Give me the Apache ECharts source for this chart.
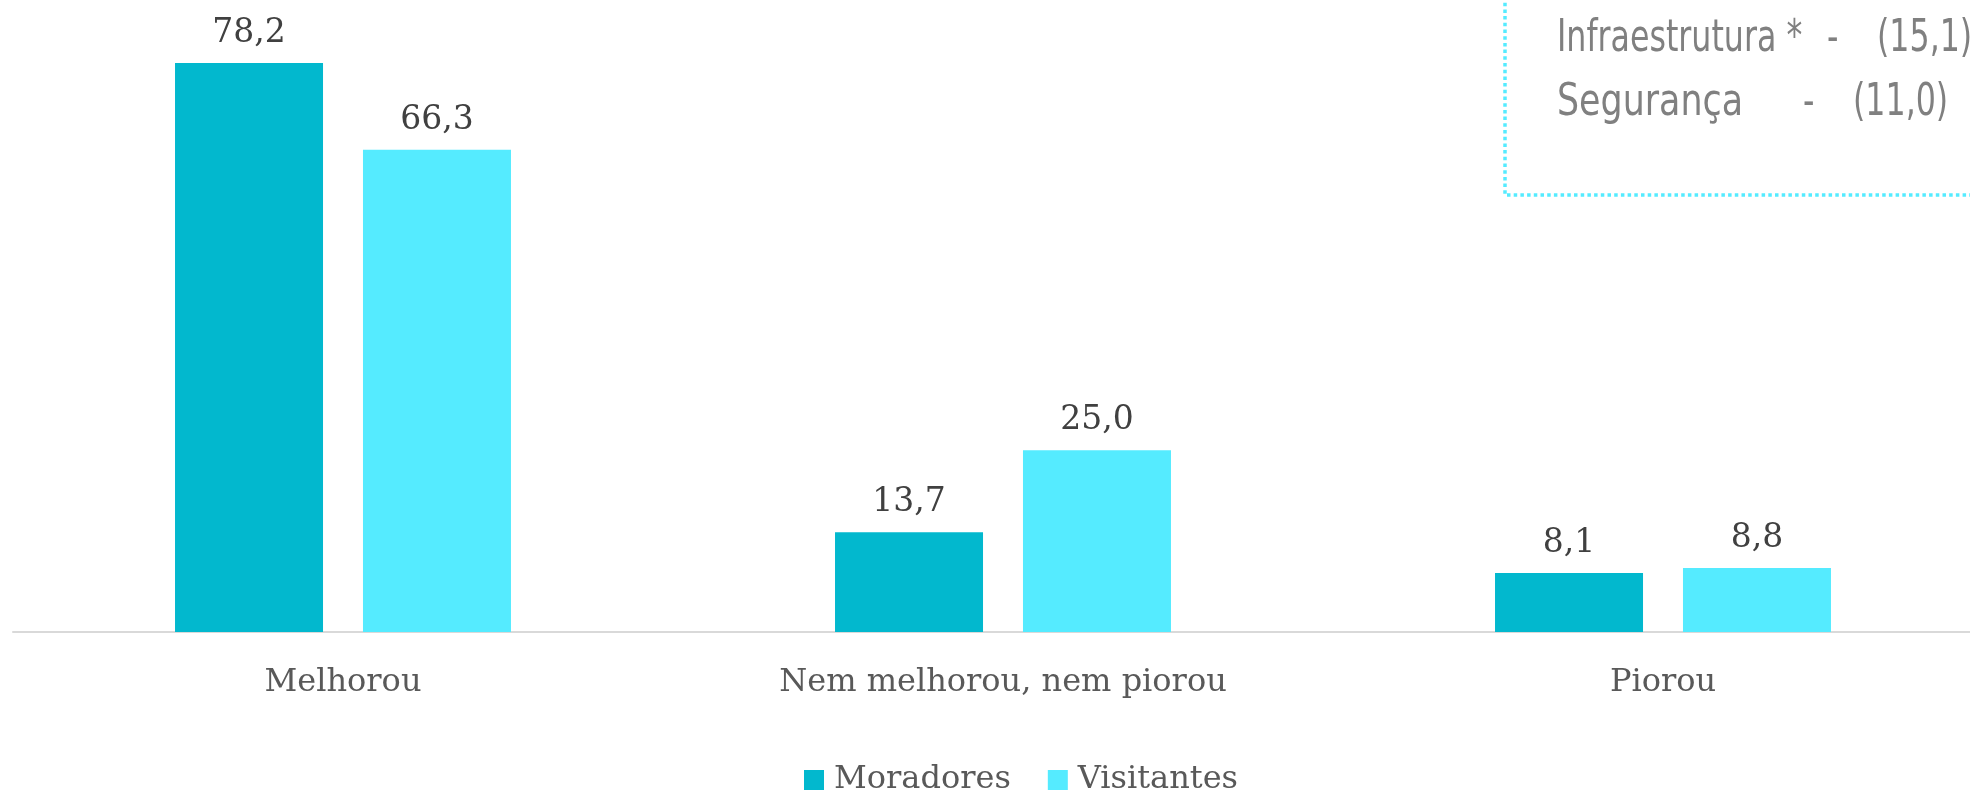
<!DOCTYPE html>
<html>
<head>
<meta charset="utf-8">
<script src="https://cdn.jsdelivr.net/npm/echarts@6/dist/echarts.min.js"></script>
<style>
  html, body { margin: 0; padding: 0; background: #fff; }
  #main { width: 1970px; height: 793px; }
</style>
</head>
<body>
<div id="main"></div>
<script>
    // dados do gráfico
    var categorias = ['Melhorou', 'Nem melhorou, nem piorou', 'Piorou'];
    var moradores = [78.2, 13.7, 8.1];
    var visitantes = [66.3, 25.0, 8.8];
    // caixa de destaque (canto superior direito)
    var destaqueNomes = ['Infraestrutura *', 'Segurança'];
    var destaqueValores = ['(15,1)', '(11,0)'];

    var serif = '"DejaVu Serif", serif';
    var narrow = '"DejaVu Sans Condensed", "DejaVu Sans", sans-serif';

    function rotulo(p) {
        return p.value.toFixed(1).replace('.', ',');
    }

    // texto da caixa, comprimido na horizontal
    function txt(t, x, y, sx) {
        return {
            type: 'text', x: x, y: y, scaleX: sx || 0.8,
            style: { text: t, font: '44px ' + narrow, fill: '#808080', textVerticalAlign: 'middle' }
        };
    }

    var myChart = echarts.init(document.getElementById('main'));

    var option = {
        animation: false,
        grid: {
            left: 13,
            top: 50,
            right: -23,
            bottom: 161,
            outerBoundsMode: 'none'
        },
        legend: {
            data: ['Moradores', 'Visitantes'],
            top: 764,
            left: 804,
            padding: 0,
            itemWidth: 20,
            itemHeight: 20,
            itemGap: 37,
            icon: 'rect',
            textStyle: {
                fontFamily: serif,
                fontSize: 32,
                color: '#595959',
                padding: [0, 0, 0, 5]
            }
        },
        xAxis: {
            type: 'category',
            data: categorias,
            axisLine: { lineStyle: { color: '#d9d9d9', width: 2 } },
            axisTick: { show: false },
            axisLabel: {
                fontFamily: serif,
                fontSize: 32,
                color: '#595959',
                margin: 35
            }
        },
        yAxis: {
            type: 'value',
            min: 0,
            max: 80,
            show: false,
            splitLine: { show: false }
        },
        series: [{
            name: 'Moradores',
            type: 'bar',
            data: moradores,
            barWidth: 148,
            barGap: '27%',
            itemStyle: { color: '#02B8CE' },
            label: {
                show: true,
                position: 'top',
                distance: 13,
                formatter: rotulo,
                fontFamily: serif,
                fontSize: 33,
                color: '#404040'
            }
        }, {
            name: 'Visitantes',
            type: 'bar',
            data: visitantes,
            barWidth: 148,
            itemStyle: { color: '#55EBFF' },
            label: {
                show: true,
                position: 'top',
                distance: 13,
                formatter: rotulo,
                fontFamily: serif,
                fontSize: 33,
                color: '#404040'
            }
        }],
        graphic: [{
            type: 'rect',
            shape: { x: 1505, y: -10, width: 520, height: 205 },
            style: { fill: 'none', stroke: '#55EBFF', lineWidth: 3.5, lineDash: [3.5, 3.2] }
        }, {
            type: 'group',
            children: [
                txt(destaqueNomes[0], 1557, 40),
                txt('-', 1827, 40),
                txt(destaqueValores[0], 1877, 40),
                txt(destaqueNomes[1], 1557, 104, 0.88),
                txt('-', 1803, 104),
                txt(destaqueValores[1], 1853, 104)
            ]
        }]
    };

    myChart.setOption(option);
</script>
</body>
</html>
